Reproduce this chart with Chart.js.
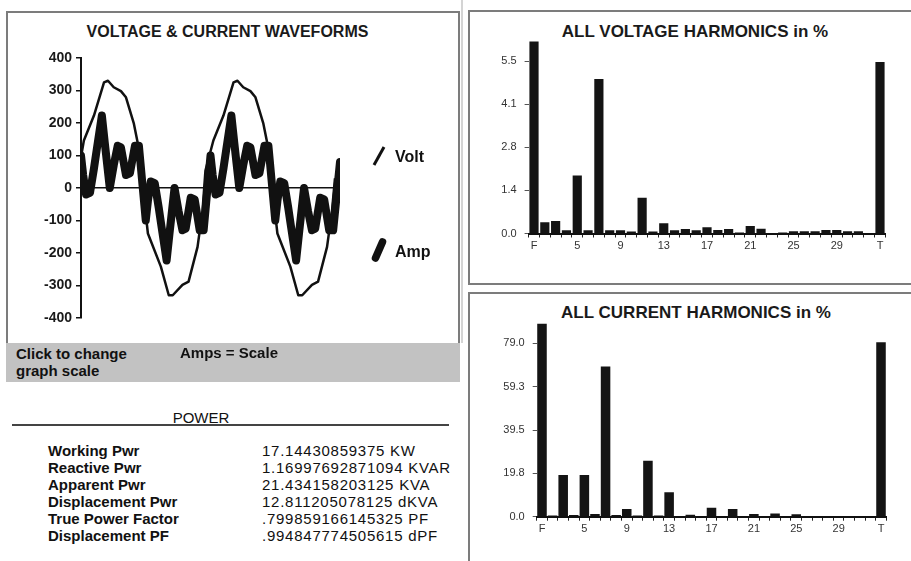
<!DOCTYPE html>
<html>
<head>
<meta charset="utf-8">
<script src="https://cdn.jsdelivr.net/npm/chart.js"></script>
<style>
  html,body{margin:0;padding:0;background:#fff;}
  body{width:911px;height:561px;overflow:hidden;position:relative;font-family:"Liberation Sans",Arial,Helvetica,sans-serif;color:#111;}
  .abs{position:absolute;}
  .box{position:absolute;box-sizing:border-box;border:2px solid #7c7c7c;}
  .title{position:absolute;text-align:center;font-weight:bold;line-height:20px;color:#1a1a1a;white-space:nowrap;}
  .cv{position:absolute;}
  .row{position:absolute;font-size:15px;line-height:16.9px;white-space:nowrap;}
</style>
</head>
<body>
<!-- panels -->
<div class="box" style="left:6px;top:11px;width:454px;height:334px;border-bottom:none;"></div>
<div class="abs" style="left:461px;top:0;width:2px;height:343px;background:#d4d4d4;"></div>
<div class="abs" style="left:6px;top:343px;width:454px;height:39px;background:#c2c2c2;"></div>
<div class="box" style="left:468px;top:10px;width:470px;height:275px;"></div>
<div class="box" style="left:468px;top:292px;width:470px;height:300px;"></div>

<!-- titles -->
<div class="title" style="left:0;top:22px;width:455px;font-size:16px;">VOLTAGE &amp; CURRENT WAVEFORMS</div>
<div class="title" style="left:470px;top:22px;width:450px;font-size:17px;">ALL VOLTAGE HARMONICS in %</div>
<div class="title" style="left:470px;top:303px;width:452px;font-size:17px;">ALL CURRENT HARMONICS in %</div>

<!-- charts -->
<div class="cv" style="left:0;top:0;width:460px;height:345px;"><canvas id="wave"></canvas></div>
<div class="cv" style="left:470px;top:12px;width:441px;height:270px;"><canvas id="vh"></canvas></div>
<div class="cv" style="left:470px;top:295px;width:441px;height:266px;"><canvas id="ch"></canvas></div>

<!-- waveform legend -->
<svg class="abs" style="left:0;top:0;" width="460" height="345">
  <line x1="374" y1="165" x2="384" y2="147" stroke="#111" stroke-width="3"/>
  <line x1="375.5" y1="258" x2="382.5" y2="242" stroke="#111" stroke-width="7.5" stroke-linecap="round"/>
</svg>
<div class="abs" style="left:395px;top:148px;font-size:16px;font-weight:bold;line-height:18px;">Volt</div>
<div class="abs" style="left:395px;top:243px;font-size:16px;font-weight:bold;line-height:18px;">Amp</div>

<!-- gray band text -->
<div class="abs" style="left:16px;top:345px;font-size:15px;font-weight:bold;line-height:17px;">Click to change<br>graph scale</div>
<div class="abs" style="left:180px;top:344px;font-size:15px;font-weight:bold;line-height:17px;">Amps = Scale</div>

<!-- power section -->
<div class="abs" style="left:0;top:409px;width:402px;text-align:center;font-size:15px;line-height:18px;">POWER</div>
<div class="abs" style="left:12px;top:423.5px;width:437px;height:2px;background:#444;"></div>
<div id="powerLabels" class="row" style="left:48px;top:443.2px;font-weight:bold;"></div>
<div id="powerValues" class="row" style="left:262px;top:443.2px;letter-spacing:0.75px;"></div>

<script>
// ---------------- DATA ----------------
// Waveforms: phase angle (degrees) and value
const voltPhase = [0, 8, 36, 64, 75, 91, 111, 125, 147, 158, 186, 222, 244, 255, 282, 299, 324, 338,
                   346, 368, 396, 424, 435, 451, 471, 485, 507, 518, 546, 582, 604, 615, 642, 659, 684, 698, 706];
const voltValues = [95, 146, 223, 325, 330, 310, 298, 279, 198, 137, -140, -242, -330, -330, -298, -288, -181, -68,
                    54, 146, 223, 325, 330, 310, 298, 279, 198, 137, -140, -242, -330, -330, -298, -288, -181, -68, 30];

const ampPhase = [0, 6, 14, 25, 36, 44, 58, 66, 80, 91, 102, 111, 125, 136, 150, 161,
                  180, 186, 194, 205, 216, 224, 238, 246, 260, 271, 282, 291, 305, 316, 330, 341,
                  360, 366, 374, 385, 396, 404, 418, 426, 440, 451, 462, 471, 485, 496, 510, 521,
                  540, 546, 554, 565, 576, 584, 598, 606, 620, 631, 642, 651, 665, 676, 690, 701, 720];
const ampValues = [100, 40, -20, -15, 60, 120, 223, 140, 0, 70, 130, 125, 40, 45, 130, 130,
                   -100, -40, 20, 15, -60, -120, -223, -140, 0, -70, -130, -125, -30, -35, -130, -130,
                   100, 40, -20, -15, 60, 120, 223, 140, 0, 70, 130, 125, 40, 45, 130, 130,
                   -100, -40, 20, 15, -60, -120, -223, -140, 0, -70, -130, -125, -30, -35, -130, -130, 80];

// Harmonics
const harmonicLabels = ['F','2','3','4','5','6','7','8','9','10','11','12','13','14','15','16','17',
                        '18','19','20','21','22','23','24','25','26','27','28','29','30','31','','T'];
const shownHarmonicLabels = ['F','5','9','13','17','21','25','29','T'];

const voltHarmonics = [6.12, 0.36, 0.40, 0.10, 1.85, 0.10, 4.93, 0.10, 0.10, 0.06, 1.14, 0.06, 0.33, 0.10, 0.14, 0.10, 0.20,
                       0.11, 0.14, 0.03, 0.24, 0.15, 0.01, 0.03, 0.07, 0.07, 0.07, 0.11, 0.11, 0.07, 0.07, null, 5.47];
const voltTicks = [0, 1.375, 2.75, 4.125, 5.5];
const voltTickLabels = ['0.0', '1.4', '2.8', '4.1', '5.5'];

const ampHarmonics = [87.9, 0.5, 19.0, 0.8, 19.0, 1.2, 68.4, 0.8, 3.5, 0.5, 25.5, 0.5, 11.1, 0.3, 0.9, 0.3, 4.1,
                      0.3, 3.5, 0.3, 1.2, 0.3, 1.5, 0.3, 1.1, 0.2, 0.2, 0.2, 0.2, 0.2, 0.2, null, 79.5];
const ampTicks = [0, 19.75, 39.5, 59.25, 79];
const ampTickLabels = ['0.0', '19.8', '39.5', '59.3', '79.0'];

const waveTicks = [-400, -300, -200, -100, 0, 100, 200, 300, 400];

// Power table
const powerLabels = ['Working Pwr', 'Reactive Pwr', 'Apparent Pwr', 'Displacement Pwr', 'True Power Factor', 'Displacement PF'];
const powerValues = ['17.14430859375 KW', '1.16997692871094 KVAR', '21.434158203125 KVA', '12.811205078125 dKVA',
                     '.799859166145325 PF', '.994847774505615 dPF'];

// ---------------- RENDER ----------------
document.getElementById('powerLabels').innerHTML = powerLabels.join('<br>');
document.getElementById('powerValues').innerHTML = powerValues.join('<br>');

const FONT = '"Liberation Sans", Arial, sans-serif';
const zip = (xs, ys) => xs.map((x, i) => ({x, y: ys[i]}));

new Chart(document.getElementById('wave'), {
  type: 'line',
  data: {
    datasets: [
      { label: 'Amp', data: zip(ampPhase, ampValues), borderColor: '#111', borderWidth: 8,
        pointRadius: 0, tension: 0, borderJoinStyle: 'round', borderCapStyle: 'round', fill: false },
      { label: 'Volt', data: zip(voltPhase, voltValues), borderColor: '#111', borderWidth: 2.5,
        pointRadius: 0, tension: 0, borderJoinStyle: 'round', fill: false }
    ]
  },
  options: {
    responsive: true, maintainAspectRatio: false, animation: false,
    layout: { padding: { left: 0, right: 120, top: 58, bottom: 27 } },
    plugins: { legend: { display: false }, tooltip: { enabled: false } },
    scales: {
      x: { type: 'linear', min: 0, max: 720, display: false },
      y: {
        min: -400, max: 400,
        afterBuildTicks: s => { s.ticks = waveTicks.map(v => ({ value: v })); },
        afterFit: s => { s.width = 81; },
        ticks: { font: { family: FONT, size: 14, weight: 'bold' }, color: '#1a1a1a', padding: 4 },
        grid: { drawOnChartArea: true, tickLength: 5, tickColor: '#111', lineWidth: 1.5,
                color: c => (c.tick && c.tick.value === 0) ? '#111' : 'rgba(0,0,0,0)' },
        border: { display: true, color: '#111', width: 2 }
      }
    }
  }
});

function harmonicChart(id, values, ticks, tickLabels, yMax, axisWidth, pad, barPct) {
  return new Chart(document.getElementById(id), {
    type: 'bar',
    data: { labels: harmonicLabels,
      datasets: [{ data: values, backgroundColor: '#141414', borderWidth: 0,
                   barPercentage: barPct, categoryPercentage: 1 }] },
    options: {
      responsive: true, maintainAspectRatio: false, animation: false,
      layout: { padding: pad },
      plugins: { legend: { display: false }, tooltip: { enabled: false } },
      scales: {
        x: {
          afterFit: s => { s.height = 20; },
          ticks: { autoSkip: false, maxRotation: 0, padding: 2, color: '#333',
                   font: { family: FONT, size: 11 },
                   callback: function (v, i) { const l = harmonicLabels[i]; return shownHarmonicLabels.includes(l) ? l : ''; } },
          grid: { drawOnChartArea: false, drawTicks: true, tickLength: 4, tickColor: '#222', offset: true },
          border: { display: true, color: '#111', width: 2 }
        },
        y: {
          min: 0, max: yMax,
          afterBuildTicks: s => { s.ticks = ticks.map(v => ({ value: v })); },
          afterFit: s => { s.width = axisWidth; },
          ticks: { padding: 8, color: '#333', font: { family: FONT, size: 11 },
                   callback: (v, i) => tickLabels[i] },
          grid: { drawOnChartArea: false, tickLength: 4, tickColor: '#555' },
          border: { display: false }
        }
      }
    }
  });
}

harmonicChart('vh', voltHarmonics, voltTicks, voltTickLabels, 6.2, 58.6,
              { left: 0, right: 25.6, top: 27.1, bottom: 28.5 }, 0.85);
harmonicChart('ch', ampHarmonics, ampTicks, ampTickLabels, 88.5, 66.7,
              { left: 0, right: 24.7, top: 27.5, bottom: 24.3 }, 0.9);
</script>
</body>
</html>
